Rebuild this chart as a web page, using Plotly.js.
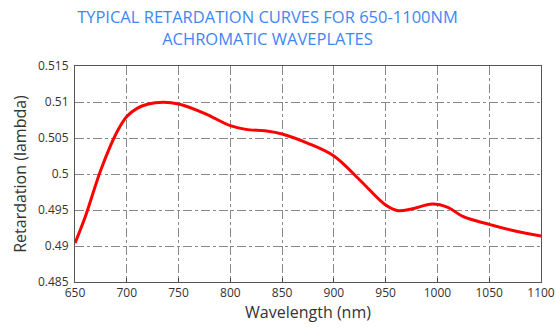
<!DOCTYPE html>
<html><head><meta charset="utf-8">
<script src="https://cdn.plot.ly/plotly-3.0.1.min.js"></script>
<style>body{margin:0;background:#fff}#c{width:555px;height:331px}</style>
</head><body><div id="c"></div>
<script>
const wavelength = [650, 660, 675, 690, 700, 710, 720, 735, 750, 775, 800, 815, 835, 850, 875, 900, 925, 950, 962, 975, 995, 1010, 1025, 1050, 1075, 1100];
const retardation = [0.4904, 0.4941, 0.5006, 0.5057, 0.5080, 0.50912, 0.50968, 0.50996, 0.50972, 0.50843, 0.50671, 0.5062, 0.50597, 0.50556, 0.50426, 0.5025, 0.49917, 0.49569, 0.4949, 0.49514, 0.49583, 0.49537, 0.49407, 0.49301, 0.49208, 0.49139];
const xTicks = [650, 700, 750, 800, 850, 900, 950, 1000, 1050, 1100];
const yTicks = [0.485, 0.49, 0.495, 0.5, 0.505, 0.51, 0.515];
const yTickText = ['0.485', '0.49', '0.495', '0.5', '0.505', '0.51', '0.515'];

Plotly.newPlot('c', [{
  x: wavelength, y: retardation, mode: 'lines', type: 'scatter',
  line: {color: '#ff0000', width: 3, shape: 'spline', smoothing: 1}
}], {
  width: 555, height: 331,
  margin: {l: 75, r: 14, t: 66, b: 49},
  paper_bgcolor: '#fff', plot_bgcolor: '#fff',
  showlegend: false,
  font: {family: 'Open Sans, sans-serif', color: '#333'},
  title: {text: 'TYPICAL RETARDATION CURVES FOR 650-1100NM<br>ACHROMATIC WAVEPLATES',
          font: {size: 16.5, color: '#3f86f5', family: 'Open Sans, sans-serif'},
          xref: 'paper', x: 0.413, xanchor: 'center', yref: 'container', y: 0.93, yanchor: 'middle'},
  xaxis: {range: [650, 1100], tickvals: xTicks, ticks: 'inside', ticklen: 4, tickcolor: '#444',
          showgrid: true, gridcolor: '#888', griddash: 'dashdot', gridwidth: 1,
          showline: true, linecolor: '#555', linewidth: 1, mirror: true, zeroline: false,
          tickfont: {size: 12, color: '#333'},
          title: {text: 'Wavelength (nm)', font: {size: 16, color: '#333'}, standoff: 5}},
  yaxis: {range: [0.485, 0.515], tickvals: yTicks, ticktext: yTickText, ticks: '',
          ticklabelstandoff: 3,
          showgrid: true, gridcolor: '#888', griddash: 'dashdot', gridwidth: 1,
          showline: true, linecolor: '#555', linewidth: 1, mirror: true, zeroline: false,
          tickfont: {size: 12, color: '#333'},
          title: {text: 'Retardation (lambda)', font: {size: 16, color: '#333'}, standoff: 7}}
}, {displayModeBar: false, staticPlot: true});
</script></body></html>
